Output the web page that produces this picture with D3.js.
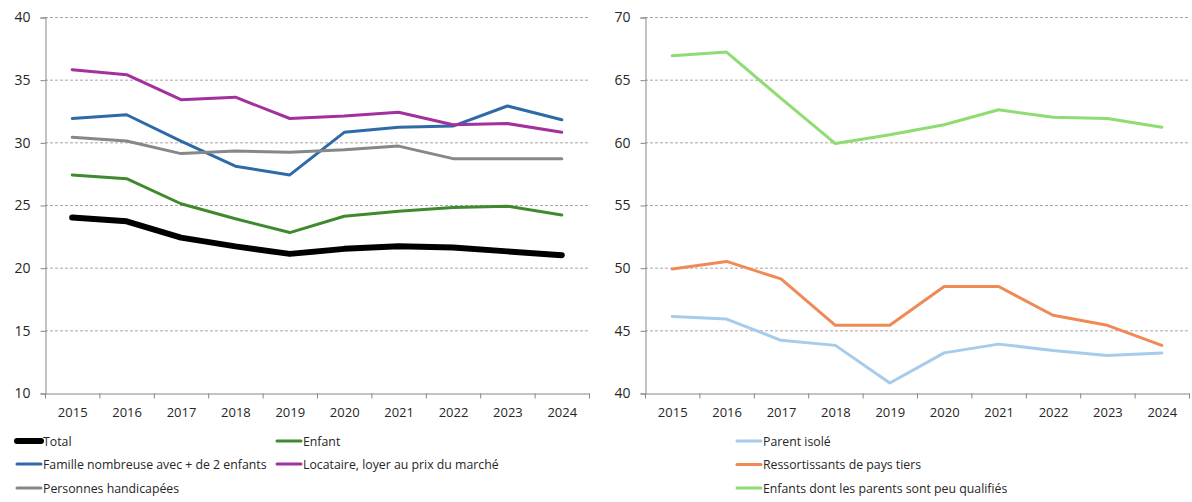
<!DOCTYPE html>
<html>
<head>
<meta charset="utf-8">
<script src="https://cdn.jsdelivr.net/npm/d3@7"></script>
<style>
  body { margin: 0; background: #fff; }
  text { font-family: "Open Sans", "Liberation Sans", sans-serif; fill: #262626; }
</style>
</head>
<body>
<div id="chart"></div>
<script>
// years on the x axis
var years = ["2015", "2016", "2017", "2018", "2019", "2020", "2021", "2022", "2023", "2024"];

// left panel series
var total = [24.0, 23.7, 22.4, 21.7, 21.1, 21.5, 21.7, 21.6, 21.3, 21.0];
var enfant = [27.4, 27.1, 25.1, 23.9, 22.8, 24.1, 24.5, 24.8, 24.9, 24.2];
var familleNombreuse = [31.9, 32.2, 30.1, 28.1, 27.4, 30.8, 31.2, 31.3, 32.9, 31.8];
var locataire = [35.8, 35.4, 33.4, 33.6, 31.9, 32.1, 32.4, 31.4, 31.5, 30.8];
var handicapees = [30.4, 30.1, 29.1, 29.3, 29.2, 29.4, 29.7, 28.7, 28.7, 28.7];

// right panel series
var parentIsole = [46.1, 45.9, 44.2, 43.8, 40.8, 43.2, 43.9, 43.4, 43.0, 43.2];
var ressortissants = [49.9, 50.5, 49.1, 45.4, 45.4, 48.5, 48.5, 46.2, 45.4, 43.8];
var peuQualifies = [66.9, 67.2, 63.5, 59.9, 60.6, 61.4, 62.6, 62.0, 61.9, 61.2];

var leftTicks = [10, 15, 20, 25, 30, 35, 40];
var rightTicks = [40, 45, 50, 55, 60, 65, 70];

var svg = d3.select("#chart").append("svg")
  .attr("width", 1192)
  .attr("height", 502);

function drawPanel(x0, x1, yDomain, ticks, series) {
  var top = 17, bottom = 393;

  var x = d3.scaleBand().domain(years).range([x0, x1]);
  var y = d3.scaleLinear().domain(yDomain).range([bottom, top]);

  var g = svg.append("g");

  // dashed gridlines
  g.selectAll(".grid")
    .data(ticks.slice(1))
    .enter()
    .append("line")
    .attr("x1", x0)
    .attr("x2", x1)
    .attr("y1", d => y(d) + 0.5)
    .attr("y2", d => y(d) + 0.5)
    .attr("stroke", "#a6a6a6")
    .attr("stroke-dasharray", "3,2");

  // y axis
  var leftAxis = d3.axisLeft(y).tickValues(ticks).tickSize(5).tickPadding(10);
  var ya = g.append("g")
    .attr("transform", `translate(${x0 + 0.5},0.5)`)
    .call(leftAxis);
  ya.select(".domain").attr("stroke", "#868686");
  ya.selectAll(".tick line").attr("stroke", "#868686");
  ya.selectAll("text").style("font-size", "14px").attr("fill", "#404040");

  // x axis, ticks between categories
  var bottomAxis = d3.axisBottom(x).tickSize(0).tickPadding(14);
  var xa = g.append("g")
    .attr("transform", `translate(0.5,${bottom + 0.5})`)
    .call(bottomAxis);
  xa.select(".domain").attr("stroke", "#868686");
  xa.selectAll("text").style("font-size", "13px").attr("fill", "#262626");
  xa.selectAll(".sep")
    .data(years.concat(["end"]))
    .enter()
    .append("line")
    .attr("x1", (d, i) => x0 + i * x.bandwidth())
    .attr("x2", (d, i) => x0 + i * x.bandwidth())
    .attr("y1", 0)
    .attr("y2", 5)
    .attr("stroke", "#868686");

  var line = d3.line()
    .x((d, i) => x(years[i]) + x.bandwidth() / 2)
    .y(d => y(d));

  series.forEach(function(s) {
    g.append("path")
      .datum(s.values)
      .attr("fill", "none")
      .attr("stroke", s.color)
      .attr("stroke-width", s.width)
      .attr("stroke-linejoin", "round")
      .attr("stroke-linecap", "round")
      .attr("d", line);
  });
}

var leftSeries = [
  { name: "Total", values: total, color: "#000000", width: 6 },
  { name: "Enfant", values: enfant, color: "#3f8a2e", width: 3 },
  { name: "Famille nombreuse avec + de 2 enfants", values: familleNombreuse, color: "#2e6aa7", width: 3 },
  { name: "Locataire, loyer au prix du marché", values: locataire, color: "#a2319e", width: 3 },
  { name: "Personnes handicapées", values: handicapees, color: "#878787", width: 3 }
];

var rightSeries = [
  { name: "Parent isolé", values: parentIsole, color: "#a7cbea", width: 3 },
  { name: "Ressortissants de pays tiers", values: ressortissants, color: "#ef8a56", width: 3 },
  { name: "Enfants dont les parents sont peu qualifiés", values: peuQualifies, color: "#8edc72", width: 3 }
];

drawPanel(45, 589, [10, 40], leftTicks, leftSeries);
drawPanel(645, 1189, [40, 70], rightTicks, rightSeries);

// legends
function legendItem(s, lx, ly) {
  svg.append("line")
    .attr("x1", lx).attr("x2", lx + 24)
    .attr("y1", ly).attr("y2", ly)
    .attr("stroke", s.color)
    .attr("stroke-width", s.width === 6 ? 6 : 3)
    .attr("stroke-linecap", "round");
  svg.append("text")
    .attr("x", lx + 26)
    .attr("y", ly + 4.5)
    .style("font-size", "12.3px")
    .text(s.name);
}

var leftPos = [[17, 441], [277, 441], [17, 464], [277, 464], [17, 488]];
leftSeries.forEach((s, i) => legendItem(s, leftPos[i][0], leftPos[i][1]));
rightSeries.forEach((s, i) => legendItem(s, 737, 441 + i * 23.5));
</script>
</body>
</html>
